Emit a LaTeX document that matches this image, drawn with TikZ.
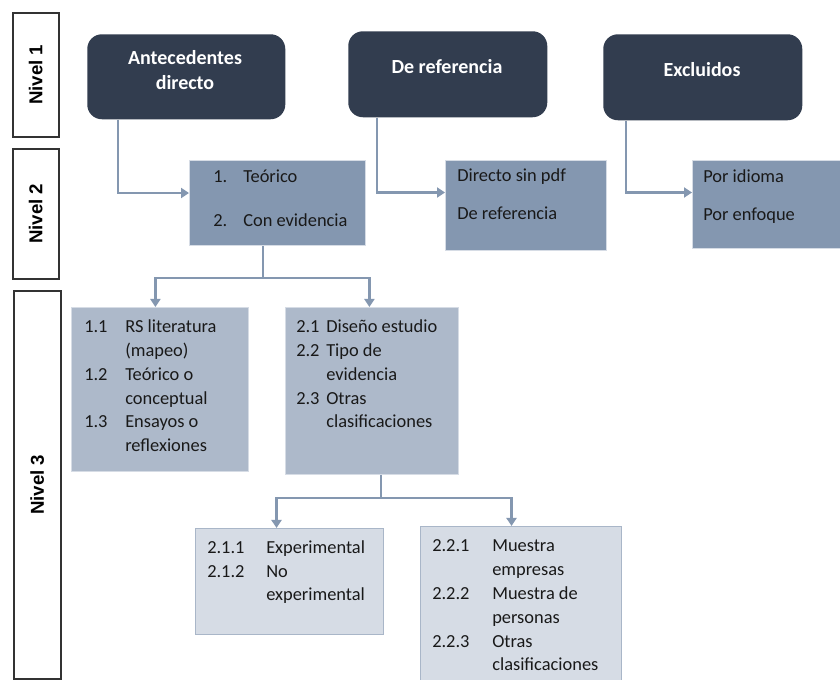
\documentclass[tikz,border=0pt]{standalone}
\usepackage{fontspec}
\setmainfont{Carlito}
\newfontfamily\nivelfont{Liberation Sans}
\usetikzlibrary{arrows.meta,calc}
\definecolor{darkbox}{HTML}{323D4F}
\definecolor{lvtwo}{HTML}{8497B0}
\definecolor{lvthree}{HTML}{ADB9CA}
\definecolor{lvfour}{HTML}{D6DCE5}
\definecolor{arrowc}{HTML}{8497B0}
\begin{document}
\begin{tikzpicture}[x=0.75pt,y=-0.75pt,
  nivelbox/.style={draw=black!80,line width=1.2pt,fill=white,inner sep=0pt},
  nivtxt/.style={font=\nivelfont\bfseries\fontsize{14}{16}\selectfont,rotate=90,inner sep=0pt},
  topbox/.style={fill=darkbox,rounded corners=11pt,inner sep=0pt},
  toptxt/.style={font=\bfseries\fontsize{15}{18}\selectfont,text=white,inner sep=0pt,align=center},
  twobox/.style={fill=lvtwo,draw=lvfour,line width=0.8pt,inner sep=0pt},
  threebox/.style={fill=lvthree,draw=lvfour,line width=0.6pt,inner sep=0pt},
  fourbox/.style={fill=lvfour,draw=lvtwo!70,line width=0.8pt,inner sep=0pt},
  txt/.style={font=\fontsize{13.8}{16}\selectfont,inner sep=0pt,anchor=base west,text=black!90},
  conn/.style={draw=arrowc,line width=2.2pt},
  arr/.style={conn,-{Triangle[width=7.5pt,length=6pt]}}]
\useasboundingbox (0,0) rectangle (840,680);
\clip (0,0) rectangle (840,680);
\fill[white] (0,0) rectangle (840,680);

% Nivel column
\node[nivelbox,minimum width=34.5pt,minimum height=93pt,anchor=north west] (n1) at (12,12) {};
\node[nivtxt] (n1t) at (n1.center) {Nivel 1};
\node[nivelbox,minimum width=34.5pt,minimum height=97.5pt,anchor=north west] (n2) at (12,148) {};
\node[nivtxt] (n2t) at (n2.center) {Nivel 2};
\node[nivelbox,minimum width=35.25pt,minimum height=291pt,anchor=north west] (n3) at (13,290) {};
\node[nivtxt] (n3t) at (n3.center) {Nivel 3};

% Level 1
\node[topbox,minimum width=148.5pt,minimum height=63.75pt,anchor=north west] (ant) at (87,34) {};
\node[toptxt] (antt) at (185,70) {Antecedentes\\[1pt]directo};
\node[topbox,minimum width=149.25pt,minimum height=64.5pt,anchor=north west] (ref) at (348,31) {};
\node[toptxt] (reft) at (447,67) {De referencia};
\node[topbox,minimum width=149.25pt,minimum height=64.5pt,anchor=north west] (exc) at (603,34) {};
\node[toptxt] (exct) at (702,70) {Excluidos};

% Level 2
\node[twobox,minimum width=132pt,minimum height=63.75pt,anchor=north west] (teo) at (189,160) {};
\node[txt] (teo1n) at (213,183) {1.};
\node[txt] (teo1) at (243,183) {Teórico};
\node[txt] (teo2n) at (213,227) {2.};
\node[txt] (teo2) at (243,227) {Con evidencia};

\node[twobox,minimum width=120.75pt,minimum height=67.5pt,anchor=north west] (dir) at (445,160) {};
\node[txt] (dir1) at (457,182) {Directo sin pdf};
\node[txt] (dir2) at (457,220) {De referencia};

\node[twobox,minimum width=120pt,minimum height=66pt,anchor=north west] (por) at (692,160) {};
\node[txt] (por1) at (703,183) {Por idioma};
\node[txt] (por2) at (703,221) {Por enfoque};

% Level 3
\node[threebox,minimum width=132.75pt,minimum height=123pt,anchor=north west] (b1) at (71,307) {};
\node[txt] (b1a) at (84,333) {1.1};
\node[txt] (b1b) at (125,333) {RS literatura};
\node[txt] (b1c) at (125,357) {(mapeo)};
\node[txt] (b1d) at (84,381) {1.2};
\node[txt] (b1e) at (125,381) {Teórico o};
\node[txt] (b1f) at (125,405) {conceptual};
\node[txt] (b1g) at (84,428) {1.3};
\node[txt] (b1h) at (125,428) {Ensayos o};
\node[txt] (b1i) at (125,452) {reflexiones};

\node[threebox,minimum width=129.75pt,minimum height=125.25pt,anchor=north west] (b2) at (285,307) {};
\node[txt] (b2a) at (296,333) {2.1};
\node[txt] (b2b) at (326,333) {Diseño estudio};
\node[txt] (b2c) at (296,357) {2.2};
\node[txt] (b2d) at (326,357) {Tipo de};
\node[txt] (b2e) at (326,381) {evidencia};
\node[txt] (b2f) at (296,405) {2.3};
\node[txt] (b2g) at (326,405) {Otras};
\node[txt] (b2h) at (326,428) {clasificaciones};

% Level 4
\node[fourbox,minimum width=141pt,minimum height=79.5pt,anchor=north west] (c1) at (195,528) {};
\node[txt] (c1a) at (207,554) {2.1.1};
\node[txt] (c1b) at (266,554) {Experimental};
\node[txt] (c1c) at (207,578) {2.1.2};
\node[txt] (c1d) at (266,578) {No};
\node[txt] (c1e) at (266,601) {experimental};

\node[fourbox,minimum width=150.75pt,minimum height=130pt,anchor=north west] (c2) at (420,526) {};
\node[txt] (c2a) at (432,552) {2.2.1};
\node[txt] (c2b) at (492,552) {Muestra};
\node[txt] (c2c) at (492,576) {empresas};
\node[txt] (c2d) at (432,600) {2.2.2};
\node[txt] (c2e) at (492,600) {Muestra de};
\node[txt] (c2f) at (492,624) {personas};
\node[txt] (c2g) at (432,648) {2.2.3};
\node[txt] (c2h) at (492,648) {Otras};
\node[txt] (c2i) at (492,671) {clasificaciones};

% Connectors level 1 -> level 2
\draw[arr] ($(ant.south west)+(31,0)$) |- ($(teo.west)+(0,-10)$);
\draw[arr] ($(ref.south west)+(29,0)$) |- ($(dir.west)+(0,-13)$);
\draw[arr] ($(exc.south west)+(23,0)$) |- ($(por.west)+(0,-12)$);

% Tree level 2 -> level 3
\coordinate (j1) at (263,278);
\draw[conn] (teo.south -| j1) -- (j1);
\draw[arr] (j1) -| ($(b1.north)+(-4.5,0)$);
\draw[arr] (j1) -| ($(b2.north)+(-2.5,0)$);

% Tree level 3 -> level 4
\coordinate (j2) at (381,498);
\draw[conn] (b2.south -| j2) -- (j2);
\draw[arr] (j2) -| ($(c1.north)+(-13,0)$);
\draw[arr] (j2) -| ($(c2.north)+(-9.5,0)$);
\end{tikzpicture}
\end{document}
